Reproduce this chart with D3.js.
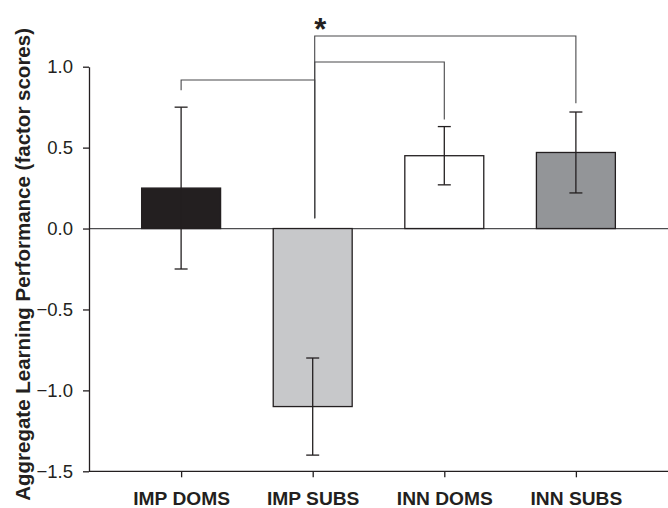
<!DOCTYPE html>
<html><head><meta charset="utf-8">
<script src="https://cdn.jsdelivr.net/npm/d3@7"></script>
<style>
body{margin:0;background:#fff;}
svg{display:block;font-family:Arial,"Liberation Sans",Helvetica,sans-serif;}
</style></head>
<body>
<svg id="c" width="668" height="508"></svg>
<script>
const categories = ["IMP DOMS","IMP SUBS","INN DOMS","INN SUBS"];
const values = [0.25,-1.10,0.45,0.47];
const errors = [0.50,0.30,0.18,0.25];
const fills = ["#231f20","#c7c8ca","#ffffff","#939598"];
const yTicks = [-1.5,-1.0,-0.5,0.0,0.5,1.0];
const yTitle = "Aggregate Learning Performance (factor scores)";
// significance brackets: from category -> to category, horizontal level, drop levels
const brackets = [
  {from:"IMP SUBS", to:"IMP DOMS", level:0.918, fromDrop:0.064, toDrop:0.855},
  {from:"IMP SUBS", to:"INN DOMS", level:1.029, fromDrop:0.064, toDrop:0.673},
  {from:"IMP SUBS", to:"INN SUBS", level:1.19,  fromDrop:0.064, toDrop:0.774}
];
const sigLabel = "*";

const svg = d3.select("#c");
const x0 = 89, x1 = 668;
const x = d3.scalePoint().domain(categories).range([x0,x1]).padding(0.7);
const y = d3.scaleLinear().domain([-1.5,1.0]).range([471.3,66.7]);
const bw = x.step()*0.6;
const ink = "#231f20";

// zero line
svg.append("line").attr("x1",x0).attr("x2",x1).attr("y1",y(0)).attr("y2",y(0))
  .attr("stroke","#4d4d4f").attr("stroke-width",1.3);

// bars
svg.selectAll("rect.bar").data(categories).join("rect")
  .attr("x",d=>x(d)-bw/2).attr("width",bw)
  .attr("y",(d,i)=>y(Math.max(0,values[i])))
  .attr("height",(d,i)=>Math.abs(y(values[i])-y(0)))
  .attr("fill",(d,i)=>fills[i]).attr("stroke",ink).attr("stroke-width",1.3);

// error bars
const cap = 6.5;
categories.forEach((c,i)=>{
  const g = svg.append("g").attr("stroke",ink).attr("stroke-width",1.3);
  const cx = x(c), hi = y(values[i]+errors[i]), lo = y(values[i]-errors[i]);
  g.append("line").attr("x1",cx).attr("x2",cx).attr("y1",hi).attr("y2",lo);
  g.append("line").attr("x1",cx-cap).attr("x2",cx+cap).attr("y1",hi).attr("y2",hi);
  g.append("line").attr("x1",cx-cap).attr("x2",cx+cap).attr("y1",lo).attr("y2",lo);
});

// brackets
brackets.forEach(b=>{
  const xa = x(b.from)+2, xb = x(b.to);
  svg.append("path")
    .attr("d",`M${xa},${y(b.fromDrop)}V${y(b.level)}H${xb}V${y(b.toDrop)}`)
    .attr("fill","none").attr("stroke","#48484a").attr("stroke-width",1.1);
});
svg.append("text").attr("x",x("IMP SUBS")+7.5).attr("y",39.5)
  .attr("text-anchor","middle").attr("font-weight","bold").attr("font-size",31)
  .attr("fill",ink).text(sigLabel);

// y axis
const ya = svg.append("g").attr("transform",`translate(${x0},0)`)
  .call(d3.axisLeft(y).tickValues(yTicks).tickFormat(d3.format(".1f")).tickSize(6).tickSizeOuter(0).tickPadding(10));
ya.selectAll("path,line").attr("stroke",ink).attr("stroke-width",1.3);
ya.selectAll("text").attr("font-size",18.5).attr("font-family","Arial,'Liberation Sans',sans-serif").attr("fill",ink);

// x axis
const xa = svg.append("g").attr("transform",`translate(0,${y(-1.5)})`)
  .call(d3.axisBottom(x).tickSize(6).tickSizeOuter(0).tickPadding(14));
xa.select("path").attr("d",`M${x0},0H${x1}`);
xa.selectAll("path,line").attr("stroke",ink).attr("stroke-width",1.3);
xa.selectAll("text").attr("font-size",19.2).attr("font-weight","bold")
  .attr("font-family","Arial,'Liberation Sans',sans-serif").attr("fill",ink);

// y title
svg.append("text").attr("transform","translate(29.5,28) rotate(-90)")
  .attr("text-anchor","end").attr("font-weight","bold").attr("font-size",20.5)
  .attr("fill",ink).text(yTitle);
</script>
</body></html>
